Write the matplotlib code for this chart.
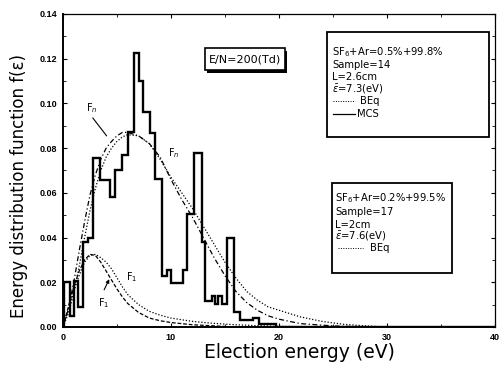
import numpy as np
import matplotlib.pyplot as plt
from matplotlib.patches import Rectangle
from matplotlib.ticker import MultipleLocator

plt.rcParams['font.family'] = ['DejaVu Sans']

# MCS histogram (sample 14): bin edges (eV) and f(e) per bin
mcs_edges = [0.0, 0.1, 0.65, 1.02, 1.42, 1.88, 2.34, 2.8, 3.4, 4.35, 4.85, 5.45,
             6.0, 6.55, 7.05, 7.45, 8.05, 8.5, 9.15, 9.6, 10.05, 11.15, 11.45,
             12.1, 12.85, 13.15, 13.8, 14.1, 14.4, 14.7, 15.2, 15.8, 16.4, 17.6,
             18.2, 19.7, 40.0]
mcs_values = [0.0, 0.020, 0.005, 0.0205, 0.009, 0.038, 0.040, 0.0755, 0.0656,
              0.058, 0.070, 0.077, 0.087, 0.1224, 0.110, 0.096, 0.0866, 0.066,
              0.023, 0.0254, 0.0195, 0.0254, 0.0507, 0.0776, 0.038, 0.0116,
              0.014, 0.0105, 0.014, 0.0105, 0.0396, 0.0067, 0.003, 0.004,
              0.0015, 0.0]

# BEq curves: F_n for both samples
fn_a_e = [0, 0.5, 1, 1.5, 2, 2.5, 3, 3.5, 4, 4.5, 5, 5.5, 6, 7, 8, 9, 10, 11,
          12, 13, 14, 15, 16, 17, 18, 19, 20, 22, 25, 28, 40]
fn_a_f = [0, 0.008, 0.020, 0.034, 0.047, 0.059, 0.068, 0.075, 0.080, 0.083,
          0.0855, 0.087, 0.087, 0.0855, 0.082, 0.076, 0.066, 0.057, 0.049,
          0.040, 0.031, 0.023, 0.016, 0.011, 0.0075, 0.005, 0.0035, 0.0015,
          0.0005, 0.0, 0.0]
fn_b_e = [0, 0.5, 1, 1.5, 2, 2.5, 3, 3.5, 4, 4.5, 5, 5.5, 6, 7, 8, 9, 10, 11,
          12, 13, 14, 15, 16, 17, 18, 19, 20, 22, 24, 26, 28, 30, 40]
fn_b_f = [0, 0.006, 0.015, 0.027, 0.040, 0.052, 0.062, 0.070, 0.076, 0.080,
          0.083, 0.085, 0.086, 0.0855, 0.082, 0.075, 0.067, 0.060, 0.053,
          0.045, 0.037, 0.029, 0.022, 0.016, 0.012, 0.009, 0.0075, 0.0045,
          0.0025, 0.0012, 0.0005, 0.0, 0.0]

# BEq curves: F_1 for both samples
f1_a_e = [0, 0.5, 1, 1.5, 2, 2.5, 3, 3.5, 4, 4.5, 5, 5.5, 6, 7, 8, 9, 10, 12,
          14, 16, 40]
f1_a_f = [0, 0.009, 0.018, 0.025, 0.030, 0.0325, 0.032, 0.029, 0.025, 0.021,
          0.017, 0.0135, 0.0105, 0.0065, 0.004, 0.0028, 0.002, 0.001, 0.0005,
          0.0, 0.0]
f1_b_e = [0, 0.5, 1, 1.5, 2, 2.5, 3, 3.5, 4, 4.5, 5, 5.5, 6, 7, 8, 9, 10, 12,
          14, 16, 18, 20, 24, 40]
f1_b_f = [0, 0.008, 0.016, 0.023, 0.029, 0.032, 0.0325, 0.031, 0.029, 0.026,
          0.022, 0.018, 0.0145, 0.010, 0.007, 0.0053, 0.004, 0.0025, 0.0016,
          0.001, 0.0006, 0.0003, 0.0, 0.0]

fig = plt.figure(figsize=(5.01, 3.67), dpi=100)
ax = fig.add_axes([0.1257, 0.109, 0.862, 0.853])

ax.stairs(mcs_values, mcs_edges, color='black', lw=1.7, baseline=0)
ax.plot(fn_a_e, fn_a_f, color='black', lw=0.9, ls=(0, (4, 2, 1, 2)))
ax.plot(fn_b_e, fn_b_f, color='black', lw=0.9, ls=(0, (1, 1.5)))
ax.plot(f1_a_e, f1_a_f, color='black', lw=0.9, ls=(0, (3, 1.5)))
ax.plot(f1_b_e, f1_b_f, color='black', lw=0.9, ls=(0, (1, 1.5)))

ax.set_xlim(0, 40)
ax.set_ylim(0, 0.14)
ax.xaxis.set_major_locator(MultipleLocator(10))
ax.xaxis.set_minor_locator(MultipleLocator(5))
ax.yaxis.set_major_locator(MultipleLocator(0.02))
ax.yaxis.set_minor_locator(MultipleLocator(0.01))
ax.yaxis.set_major_formatter(lambda v, p: '%.2f' % v)
ax.tick_params(which='both', direction='in', top=True, right=True,
               labelsize=6.5, pad=4)
ax.tick_params(which='major', length=3)
ax.tick_params(which='minor', length=2)
for lab in ax.get_xticklabels() + ax.get_yticklabels():
    lab.set_fontweight('bold')
    lab.set_family('Liberation Sans')
for side in ['left', 'bottom']:
    ax.spines[side].set_linewidth(1.4)
for side in ['top', 'right']:
    ax.spines[side].set_linewidth(0.9)

ax.set_xlabel('Election energy (eV)', fontsize=13.5)
ax.set_ylabel('Energy distribution function f(\u03b5)', fontsize=12)
ax.xaxis.set_label_coords(0.548, -0.05)
ax.yaxis.set_label_coords(-0.081, 0.45)

# curve labels and pointers
ax.text(2.1, 0.0965, 'F$_n$', fontsize=7)
ax.annotate('', xy=(4.2, 0.0845), xytext=(2.6, 0.0945),
            arrowprops=dict(arrowstyle='-', lw=0.8))
ax.text(9.7, 0.0765, 'F$_n$', fontsize=7)
ax.text(5.8, 0.021, 'F$_1$', fontsize=7)
ax.text(3.2, 0.0095, 'F$_1$', fontsize=7)
ax.annotate('', xy=(4.4, 0.0225), xytext=(3.7, 0.0155),
            arrowprops=dict(arrowstyle='-|>', lw=0.8, mutation_scale=5,
                            color='black'))

# E/N box with drop shadow
ax.add_patch(Rectangle((0.334, 0.812), 0.185, 0.07, transform=ax.transAxes,
                       fc='black', ec='black', lw=0, zorder=4))
ax.add_patch(Rectangle((0.329, 0.821), 0.185, 0.07, transform=ax.transAxes,
                       fc='white', ec='black', lw=1.2, zorder=5))
ax.text(0.4215, 0.856, 'E/N=200(Td)', transform=ax.transAxes, fontsize=8,
        ha='center', va='center', zorder=6)

# sample 14 legend box
ax.add_patch(Rectangle((0.611, 0.607), 0.375, 0.335, transform=ax.transAxes,
                       fc='white', ec='black', lw=1.3, zorder=5))
box1 = ['SF$_6$+Ar=0.5%+99.8%', 'Sample=14', 'L=2.6cm', '$\\bar{\\varepsilon}$=7.3(eV)']
for txt, yy in zip(box1, [0.879, 0.837, 0.799, 0.760]):
    ax.text(0.623, yy, txt, transform=ax.transAxes, fontsize=7.2,
            va='center', zorder=6)
ax.plot([0.625, 0.676], [0.722, 0.722], transform=ax.transAxes, color='black',
        lw=0.7, ls=(0, (1, 1.5)), zorder=6)
ax.text(0.688, 0.722, 'BEq', transform=ax.transAxes, fontsize=7.2,
        va='center', zorder=6)
ax.plot([0.625, 0.676], [0.681, 0.681], transform=ax.transAxes, color='black',
        lw=0.9, zorder=6)
ax.text(0.68, 0.681, 'MCS', transform=ax.transAxes, fontsize=7.2,
        va='center', zorder=6)

# sample 17 legend box
ax.add_patch(Rectangle((0.623, 0.173), 0.277, 0.287, transform=ax.transAxes,
                       fc='white', ec='black', lw=1.3, zorder=5))
box2 = ['SF$_6$+Ar=0.2%+99.5%', 'Sample=17', 'L=2cm', '$\\bar{\\varepsilon}$=7.6(eV)']
for txt, yy in zip(box2, [0.412, 0.367, 0.326, 0.288]):
    ax.text(0.63, yy, txt, transform=ax.transAxes, fontsize=7.2,
            va='center', zorder=6)
ax.plot([0.637, 0.694], [0.252, 0.252], transform=ax.transAxes, color='black',
        lw=0.7, ls=(0, (1, 1.5)), zorder=6)
ax.text(0.71, 0.252, 'BEq', transform=ax.transAxes, fontsize=7.2,
        va='center', zorder=6)

fig.savefig('out.png', dpi=100)
